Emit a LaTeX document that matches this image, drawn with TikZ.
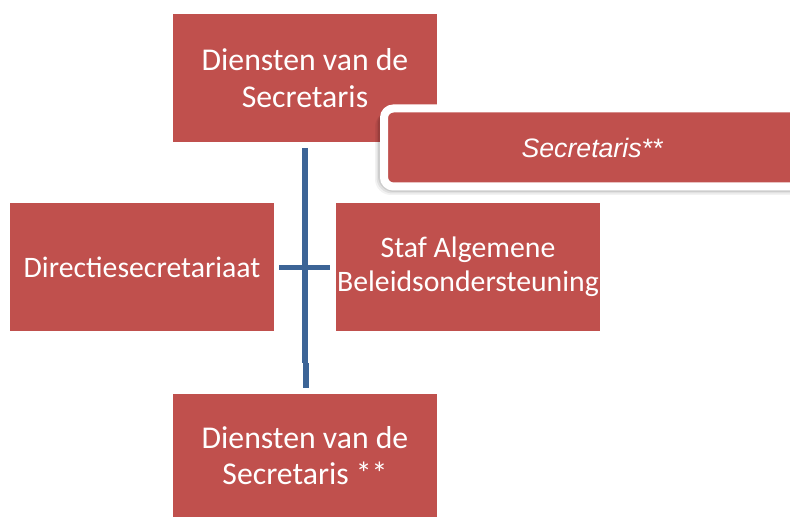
\documentclass[tikz,border=0pt]{standalone}
\usepackage{fontspec}
\setmainfont{Carlito}
\newfontfamily\arialf{Liberation Sans}
\definecolor{boxred}{RGB}{192,80,77}
\definecolor{lineblue}{RGB}{60,100,150}
\begin{document}
\begin{tikzpicture}[x=0.75pt,y=-0.75pt]
\useasboundingbox (0,0) rectangle (790,517);
\clip (0,0) rectangle (790,517);
\tikzset{
  orgbox/.style={fill=boxred,text=white,inner sep=0pt,minimum width=198pt,minimum height=96pt,align=center,font=\fontsize{23.8}{27.5}\selectfont},
  smalltext/.style={font=\fontsize{22.3}{25.5}\selectfont},
  conn/.style={draw=lineblue,line width=4.3pt},
  assist/.style={fill=boxred,draw=white,line width=6pt,rounded corners=7pt,text=white,inner sep=0pt,minimum width=312pt,minimum height=58.5pt,font=\arialf\itshape\fontsize{20}{24}\selectfont}
}
% boxes
\node[orgbox] (top) at (305,78) {Diensten van de\\Secretaris};
\node[orgbox,smalltext] (left) at (142,267) {Directiesecretariaat};
\node[orgbox,smalltext] (right) at (468,267) {Staf Algemene\\Beleidsondersteuning};
\node[orgbox,minimum height=92.25pt] (bottom) at (305,455.5) {Diensten van de\\Secretaris **};
% assistant box with soft shadow
\foreach \d/\o in {5/0.05,3.5/0.07,2/0.09}{
  \fill[black,opacity=\o,rounded corners=12pt] (380-\d,106+\d) rectangle (805,190+\d);
}
\node[assist] (sec) at (592,147.5) {Secretaris**};
% connectors
\coordinate (vtop) at (305,148);
\coordinate (vmid) at (305,363);
\coordinate (vmid2) at (306,363);
\coordinate (vbot) at (306,388);
\coordinate (hl) at (279,267.5);
\coordinate (hr) at (330,267.5);
\draw[conn] (vtop) -- (vmid);
\draw[conn] (vmid2) -- (vbot);
\draw[conn] (hl) -- (hr);
\end{tikzpicture}
\end{document}
